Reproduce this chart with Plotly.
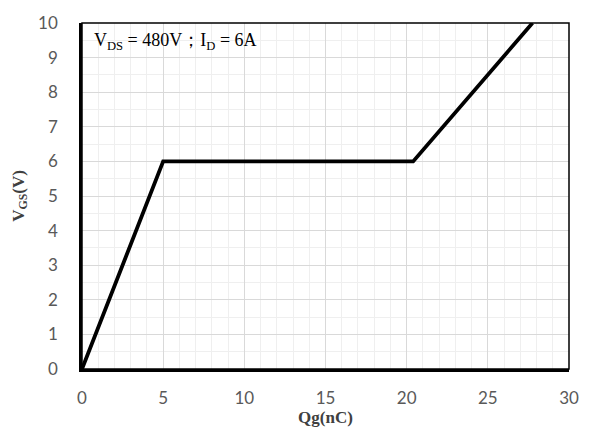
import plotly.graph_objects as go

qg = [0, 5, 20.4, 27.75]
vgs = [0, 6, 6, 10]
x_ticks = [0, 5, 10, 15, 20, 25, 30]
y_ticks = [0, 1, 2, 3, 4, 5, 6, 7, 8, 9, 10]

fig = go.Figure()
fig.add_trace(go.Scatter(x=qg, y=vgs, mode="lines",
                         line=dict(color="black", width=3.8), showlegend=False))

tickfont = dict(family="Lato, Open Sans, sans-serif", size=17, color="#595959")
fig.update_layout(
    width=591, height=432,
    margin=dict(l=82, r=19, t=17, b=61),
    paper_bgcolor="white", plot_bgcolor="white",
    xaxis=dict(range=[0, 30], tickvals=x_ticks, tickfont=tickfont,
               showgrid=True, gridcolor="#d9d9d9", gridwidth=1.3,
               minor=dict(dtick=1, showgrid=True, gridcolor="#efefef", gridwidth=1.3),
               showline=True, linecolor="black", linewidth=2.5,
               zeroline=False, ticks="outside", ticklen=12, tickcolor="rgba(0,0,0,0)",
               title=dict(text="<b>Qg(nC)</b>", standoff=0,
                          font=dict(family="Liberation Serif", size=17, color="#404040"))),
    yaxis=dict(range=[0, 10], tickvals=y_ticks, tickfont=tickfont,
               showgrid=True, gridcolor="#d9d9d9", gridwidth=1.3,
               minor=dict(dtick=0.5, showgrid=True, gridcolor="#efefef", gridwidth=1.3),
               showline=True, linecolor="black", linewidth=2.5,
               zeroline=False, ticks="outside", ticklen=18, tickcolor="rgba(0,0,0,0)",
               title=dict(text="<b>V<sub>GS</sub>(V)</b>", standoff=10,
                          font=dict(family="Liberation Serif", size=17, color="#404040"))),
)
fig.add_shape(type="rect", xref="paper", yref="paper", x0=0, y0=0, x1=1, y1=1,
              line=dict(color="black", width=1.5), layer="above")
fig.add_annotation(xref="paper", yref="paper", x=0.02, y=0.985, xanchor="left", yanchor="top",
                   showarrow=False,
                   text="V<sub>DS</sub> = 480V；I<sub>D</sub> = 6A",
                   font=dict(family="Liberation Serif", size=18, color="black"))

fig.write_html("out.html")
